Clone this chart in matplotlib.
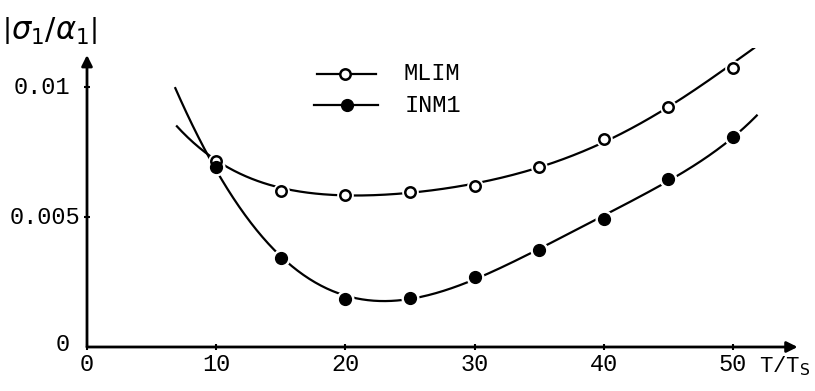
import numpy as np
import matplotlib
matplotlib.use("Agg")
import matplotlib.pyplot as plt
from numpy.polynomial import Polynomial

# measured points (T/Ts, |sigma1/alpha1|)
t_ratio = [10, 15, 20, 25, 30, 35, 40, 45, 50]
mlim = [0.00715, 0.00601, 0.00585, 0.00597, 0.00619, 0.00691, 0.00800, 0.00924, 0.01074]
inm1 = [0.00693, 0.00343, 0.00185, 0.00187, 0.00269, 0.00373, 0.00493, 0.00645, 0.00809]

# hand-drawn trend curves through the points
mlim_curve_x = [6.9, 10, 15, 20, 25, 30, 35, 40, 45, 50, 51.7]
mlim_curve_y = [0.00854, 0.00715, 0.00610, 0.00590, 0.00595, 0.00620, 0.00690, 0.00795, 0.00925, 0.01080, 0.01160]
inm1_curve_x = [6.8, 10, 15, 20, 22.5, 25, 30, 35, 40, 45, 50, 51.9]
inm1_curve_y = [0.00995, 0.00690, 0.00345, 0.00190, 0.00175, 0.00190, 0.00270, 0.00375, 0.00495, 0.00645, 0.00810, 0.00890]

x_ticks = [0, 10, 20, 30, 40, 50]
y_ticks = [0.005, 0.01]

MONO = ["Liberation Mono", "DejaVu Sans Mono"]

fig = plt.figure(figsize=(8.15, 3.91), dpi=100)
ax = fig.add_axes([87 / 815, 44 / 391, 55.5 * 12.92 / 815, 299 / 391])
ax.set_xlim(0, 55.5)
ax.set_ylim(0, 0.0115)

for side in ["top", "right", "left", "bottom"]:
    ax.spines[side].set_visible(False)

# axes drawn as arrows
arrow = dict(arrowstyle="-|>", lw=2, color="black", mutation_scale=16, shrinkA=0, shrinkB=0)
ax.annotate("", xy=(55.0, 0), xytext=(0, 0), arrowprops=arrow, annotation_clip=False)
ax.annotate("", xy=(0, 0.01123), xytext=(0, 0), arrowprops=arrow, annotation_clip=False)

ax.set_xticks(x_ticks)
ax.set_xticklabels([str(v) for v in x_ticks], family=MONO, fontsize=17)
ax.set_yticks(y_ticks)
ax.tick_params(axis="x", direction="inout", length=5, width=1.5, pad=2)
ax.tick_params(axis="y", direction="inout", length=5, width=1.5, labelleft=False)

# y tick labels placed by hand like the original lettering
ax.text(-1.3, 0.01, "0.01", ha="right", va="center", family=MONO, fontsize=17)
ax.text(-0.5, 0.005, "0.005", ha="right", va="center", family=MONO, fontsize=17)
ax.text(-1.3, 0.0001, "0", ha="right", va="center", family=MONO, fontsize=17)

# trend curves
for cx, cy in [(mlim_curve_x, mlim_curve_y), (inm1_curve_x, inm1_curve_y)]:
    fit = Polynomial.fit(cx, cy, deg=5)
    xs = np.linspace(cx[0], cx[-1], 300)
    ax.plot(xs, fit(xs), color="black", lw=1.6, zorder=2, solid_capstyle="butt")

# white halo breaks the line around each marker
ax.plot(t_ratio, mlim, "o", ms=11, color="white", zorder=3)
ax.plot(t_ratio, inm1, "o", ms=12, color="white", zorder=3)
ax.plot(t_ratio, mlim, "o", ms=7.5, mfc="white", mec="black", mew=1.8, zorder=4, label="MLIM")
ax.plot(t_ratio, inm1, "o", ms=8.5, color="black", zorder=4, label="INM1")

# legend
ax.plot([17.8, 22.4], [0.0105, 0.0105], color="black", lw=1.6, zorder=2)
ax.plot([20.0], [0.0105], "o", ms=7.5, mfc="white", mec="black", mew=1.8, zorder=4)
ax.plot([17.6, 22.5], [0.0093, 0.0093], color="black", lw=1.6, zorder=2)
ax.plot([20.1], [0.0093], "o", ms=8.5, color="black", zorder=4)
ax.text(24.5, 0.0105, "MLIM", ha="left", va="center", family=MONO, fontsize=17)
ax.text(24.6, 0.0093, "INM1", ha="left", va="center", family=MONO, fontsize=17)

# axis titles
fig.text(50 / 815, 1 - 31 / 391, r"$\left|\sigma_1/\alpha_1\right|$", ha="center", va="center", fontsize=22)
fig.text(785 / 815, 1 - 366 / 391, r"T/T$_\mathrm{S}$", ha="center", va="center",
         family=MONO, fontsize=16)

fig.savefig("out.png", dpi=100, facecolor="white")
